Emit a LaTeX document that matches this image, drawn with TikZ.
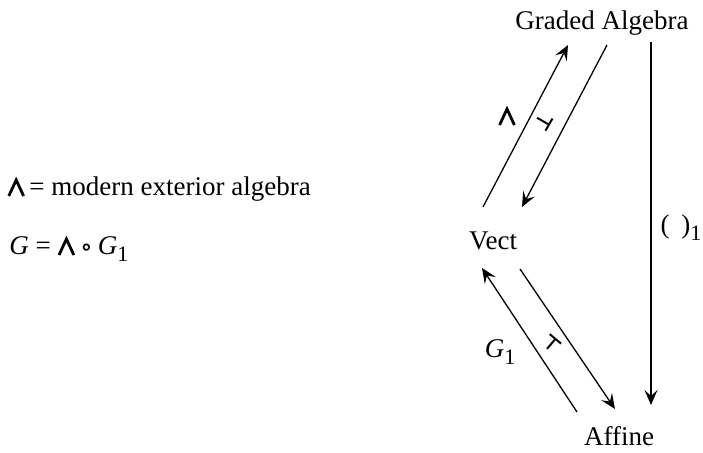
\documentclass[tikz,border=0pt]{standalone}
\usepackage{amsmath}
\usepackage{amssymb}
\usepackage{fontspec}
\setmainfont{Liberation Serif}
\newfontfamily\symfont{DejaVu Sans}
\usepackage{tikz}
\usetikzlibrary{arrows.meta}

\newcommand{\wdg}{\tikz[baseline=0pt]\draw[line width=1.4pt, line join=miter] (0.7pt,0pt) -- (4.4pt,8pt) -- (8.1pt,0pt);}
\newcommand{\subone}{\raisebox{-0.55ex}{\fontsize{11}{11}\selectfont 1}}
\newcommand{\Gsub}{\textit{G}\subone}

\begin{document}
\begin{tikzpicture}[x=0.5pt, y=-0.5pt, font=\fontsize{13.5}{16}\selectfont,
    txt/.style={inner sep=0pt, anchor=base},
    tack/.style={font=\symfont\bfseries\fontsize{10}{10}\selectfont, inner sep=0pt},
    map/.style={line width=0.65pt, -{Stealth[length=7.5pt, width=6.5pt, inset=3pt]}}]
                \useasboundingbox (0,0) rectangle (703,453);

                % Nodes
                \node[txt] (ga) at (602,30) {Graded Algebra};
                \node[txt] (vect) at (493,250) {Vect};
                \node[txt] (aff) at (619,446) {Affine};
                \node[txt, anchor=base west] (def) at (7,196) {\wdg\,= modern exterior algebra};
                \node[txt, anchor=base west] (comp) at (9,255) {\textit{G} = \wdg\,{\symfont\bfseries\fontsize{11}{11}\selectfont ∘}\,\Gsub};

                % Edges
                \draw[map] ([shift={(-10,-43)}]vect.base) -- ([shift={(-34,15)}]ga.base);
                \draw[map] ([shift={(5,15)}]ga.base) -- ([shift={(29,-43)}]vect.base);
                \draw[map] ([shift={(-42,-34)}]aff.base) -- ([shift={(-11,18)}]vect.base);
                \draw[map] ([shift={(27,19)}]vect.base) -- ([shift={(-4,-37)}]aff.base);
                \draw[map] ([shift={(49,12)}]ga.base) -- ([shift={(32,-41)}]aff.base);

                % Labels
                \node (wl) at (507,117) {\wdg};
                \node[tack, rotate=-30] (adj1) at (544,122) {⊣};
                \node (gl) at (500,352) {\Gsub};
                \node[tack, rotate=-40] (adj2) at (552,344) {⊤};
                \node (pl) at (681,228) {(\;\,)\subone};
            \end{tikzpicture}
\end{document}
